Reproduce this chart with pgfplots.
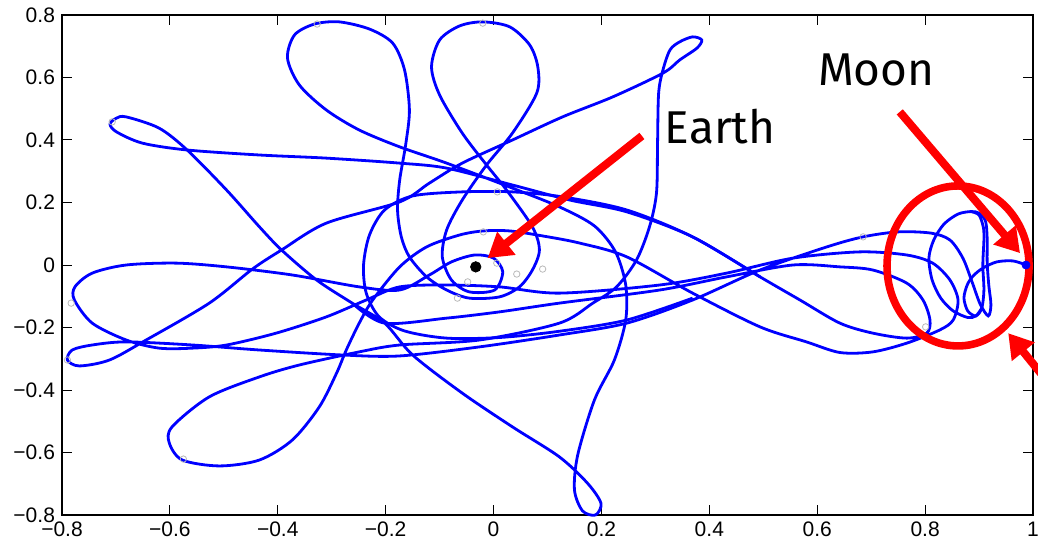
\documentclass[border=0pt]{standalone}
\usepackage{pgfplots}
\pgfplotsset{compat=1.18}
\usepackage{fontspec}
\setmainfont{Liberation Sans}
\newfontfamily\annfont{Fira Sans}
\usetikzlibrary{arrows.meta}
\begin{document}
\begin{tikzpicture}
\begin{axis}[
  at={(0,0)}, anchor=south west,
  scale only axis, width=485.5pt, height=250pt,
  xmin=-0.8, xmax=1, ymin=-0.8, ymax=0.8,
  xtick={-0.8,-0.6,-0.4,-0.2,0,0.2,0.4,0.6,0.8,1},
  xticklabels={−0.8,−0.6,−0.4,−0.2,0,0.2,0.4,0.6,0.8,1},
  ytick={-0.8,-0.6,-0.4,-0.2,0,0.2,0.4,0.6,0.8},
  yticklabels={−0.8,−0.6,−0.4,−0.2,0,0.2,0.4,0.6,0.8},
  tick align=inside, major tick length=5pt,
  tick style={black, line width=0.5pt},
  axis line style={black, line width=0.6pt},
  tick label style={font=\fontsize{10.5}{12}\selectfont},
  clip=false,
]
% main trajectory
\addplot[blue, line width=1.4pt, smooth] coordinates {
(-0.262,-0.122)(-0.202,-0.186)(-0.087,-0.170)(0.011,-0.150)(0.122,-0.122)(0.308,-0.080)(0.432,-0.038)(0.555,0.000)
(0.642,-0.006)(0.703,-0.016)(0.766,-0.058)(0.796,-0.112)(0.809,-0.176)(0.803,-0.218)
(0.766,-0.234)(0.703,-0.218)(0.642,-0.186)(0.568,-0.112)(0.494,-0.038)(0.369,0.090)
(0.247,0.170)(0.141,0.208)(0.035,0.256)(-0.087,0.310)(-0.174,0.326)(-0.310,0.342)
(-0.434,0.352)(-0.568,0.368)(-0.651,0.390)(-0.699,0.426)(-0.711,0.451)
(-0.699,0.470)(-0.681,0.474)(-0.620,0.438)(-0.568,0.368)(-0.495,0.240)(-0.434,0.122)
(-0.393,0.048)(-0.328,-0.048)(-0.262,-0.122)(-0.202,-0.186)(-0.150,-0.288)(-0.058,-0.410)
(0.035,-0.518)(0.122,-0.614)(0.174,-0.698)(0.199,-0.762)(0.189,-0.800)(0.165,-0.787)
(0.150,-0.720)(0.156,-0.608)(0.187,-0.432)(0.224,-0.304)(0.245,-0.176)(0.245,-0.064)
(0.226,0.042)(0.187,0.125)(0.122,0.186)(0.035,0.246)(-0.087,0.326)(-0.174,0.378)
(-0.249,0.432)(-0.310,0.496)(-0.360,0.576)(-0.382,0.662)(-0.369,0.736)(-0.332,0.771)
(-0.286,0.778)(-0.230,0.755)(-0.187,0.710)(-0.165,0.624)(-0.156,0.496)(-0.163,0.384)
(-0.174,0.272)(-0.178,0.176)(-0.171,0.090)(-0.156,0.026)(-0.124,-0.038)(-0.087,-0.080)
(-0.045,-0.106)(0.011,-0.102)(0.048,-0.070)(0.072,-0.016)(0.085,0.048)(0.072,0.122)
(0.024,0.240)(-0.013,0.320)(-0.058,0.422)(-0.100,0.544)(-0.115,0.634)(-0.100,0.720)
(-0.063,0.765)(-0.020,0.778)(0.030,0.762)(0.067,0.704)(0.082,0.634)(0.080,0.550)
(0.035,0.422)(-0.013,0.320)(-0.058,0.208)(-0.087,0.112)(-0.095,0.026)(-0.078,-0.048)
(-0.045,-0.086)(0.002,-0.080)(0.017,-0.022)(0.000,0.022)(-0.035,0.032)(-0.078,0.010)
(-0.119,-0.032)(-0.174,-0.080)(-0.249,-0.070)(-0.373,-0.032)(-0.495,-0.006)(-0.588,0.006)
(-0.681,0.000)(-0.744,-0.026)(-0.776,-0.070)(-0.777,-0.112)(-0.744,-0.186)(-0.681,-0.240)
(-0.620,-0.266)(-0.558,-0.266)(-0.495,-0.256)(-0.403,-0.218)(-0.310,-0.166)(-0.236,-0.112)
(-0.174,-0.070)(-0.087,-0.064)(0.011,-0.070)(0.122,-0.090)(0.308,-0.064)(0.432,-0.026)
(0.555,0.022)(0.679,0.042)(0.766,0.032)(0.814,0.006)(0.846,-0.048)(0.861,-0.112)
(0.852,-0.176)(0.827,-0.208)(0.766,-0.250)(0.703,-0.278)(0.642,-0.280)(0.580,-0.246)
(0.494,-0.198)(0.369,-0.090)(0.247,0.026)(0.160,0.070)(0.091,0.093)(0.030,0.109)
(-0.019,0.109)(-0.063,0.096)(-0.124,0.058)(-0.174,-0.006)(-0.224,-0.112)(-0.249,-0.186)
(-0.273,-0.272)(-0.291,-0.346)(-0.323,-0.454)(-0.373,-0.560)(-0.434,-0.624)(-0.508,-0.643)
(-0.577,-0.624)(-0.601,-0.570)(-0.596,-0.518)(-0.527,-0.422)(-0.434,-0.358)(-0.360,-0.320)
(-0.249,-0.278)(-0.174,-0.256)(-0.026,-0.240)(0.122,-0.186)(0.184,-0.122)(0.228,-0.070)
(0.265,0.016)(0.289,0.122)(0.302,0.230)(0.304,0.390)(0.306,0.550)(0.314,0.624)
(0.327,0.688)(0.345,0.714)(0.369,0.730)(0.386,0.720)(0.377,0.694)(0.345,0.656)
(0.314,0.614)(0.221,0.538)(0.128,0.474)(0.035,0.400)(-0.058,0.326)(-0.119,0.262)
(-0.174,0.202)(-0.310,0.134)(-0.393,0.048)(-0.447,-0.013)(-0.527,-0.122)(-0.644,-0.240)
(-0.712,-0.304)(-0.768,-0.323)(-0.790,-0.304)(-0.781,-0.272)(-0.744,-0.256)(-0.681,-0.246)
(-0.558,-0.256)(-0.434,-0.272)(-0.280,-0.288)(-0.174,-0.291)(-0.026,-0.262)(0.122,-0.224)
(0.247,-0.186)(0.369,-0.112)(0.494,-0.016)(0.618,0.058)(0.685,0.090)(0.750,0.106)
(0.811,0.102)(0.846,0.080)(0.870,0.022)(0.887,-0.054)(0.902,-0.125)(0.917,-0.163)
(0.922,-0.128)(0.918,-0.064)(0.915,0.010)(0.915,0.086)(0.912,0.140)(0.900,0.166)(0.885,0.171)
(0.861,0.163)(0.835,0.131)(0.816,0.080)(0.807,0.022)(0.813,-0.048)(0.829,-0.106)
(0.852,-0.147)(0.879,-0.168)(0.894,-0.163)(0.905,-0.138)
};
% arc over the Earth
\addplot[blue, line width=1.4pt, smooth] coordinates {
(0.494,-0.038)(0.369,0.090)(0.247,0.176)(0.128,0.218)(0.035,0.234)(-0.058,0.234)(-0.150,0.221)(-0.202,0.176)
(-0.230,0.096)(-0.241,0.000)(-0.236,-0.090)(-0.212,-0.166)(-0.165,-0.211)(-0.087,-0.234)
(0.011,-0.232)(0.122,-0.212)(0.247,-0.176)(0.369,-0.106)
};
% final loop to the Moon
\addplot[blue, line width=1.4pt, smooth] coordinates {
(0.885,0.171)(0.900,0.160)(0.908,0.120)(0.909,0.080)(0.907,0.000)(0.909,-0.080)(0.905,-0.138)(0.894,-0.163)(0.879,-0.147)
(0.872,-0.106)(0.878,-0.064)(0.889,-0.035)(0.907,-0.010)(0.933,0.010)(0.963,0.013)(0.987,0.000)
};
% time markers
\addplot[only marks, mark=o, mark size=1.6pt, gray!55, line width=0.4pt] coordinates {
(-0.707,0.458)(-0.327,0.771)(-0.020,0.774)(0.007,0.234)(-0.783,-0.122)(-0.790,-0.304)
(-0.575,-0.621)(-0.019,0.106)(0.006,0.006)(0.043,-0.029)(0.091,-0.013)(-0.048,-0.054)
(-0.067,-0.106)(0.685,0.090)(0.801,-0.198)
};
% Earth and Moon
\addplot[only marks, mark=*, mark size=2.6pt, black] coordinates {(-0.033,-0.006)};
\addplot[only marks, mark=*, mark size=2pt, blue] coordinates {(0.987,0)};
% annotations
\draw[red, line width=3.8pt] (axis cs:0.861,-0.003) ellipse [x radius=35.5pt, y radius=40pt];
\draw[red, line width=4pt, -{Triangle[length=12pt, width=14pt]}] (axis cs:0.275,0.413) -- (axis cs:-0.011,0.022);
\draw[red, line width=4pt, -{Triangle[length=12pt, width=14pt]}] (axis cs:0.753,0.490) -- (axis cs:0.976,0.038);
\draw[red, line width=4pt, -{Triangle[length=12pt, width=14pt]}] (axis cs:1.032,-0.384) -- (axis cs:0.954,-0.218);
\node[anchor=base west, inner sep=0pt, font=\annfont\fontsize{23}{27}\selectfont] at (axis cs:0.317,0.390) {Earth};
\node[anchor=base west, inner sep=0pt, font=\annfont\fontsize{23}{27}\selectfont] at (axis cs:0.601,0.573) {Moon};
\end{axis}
\pgfresetboundingbox
\path[use as bounding box] (-31pt,-16pt) rectangle (488pt,257.5pt);
\end{tikzpicture}
\end{document}
